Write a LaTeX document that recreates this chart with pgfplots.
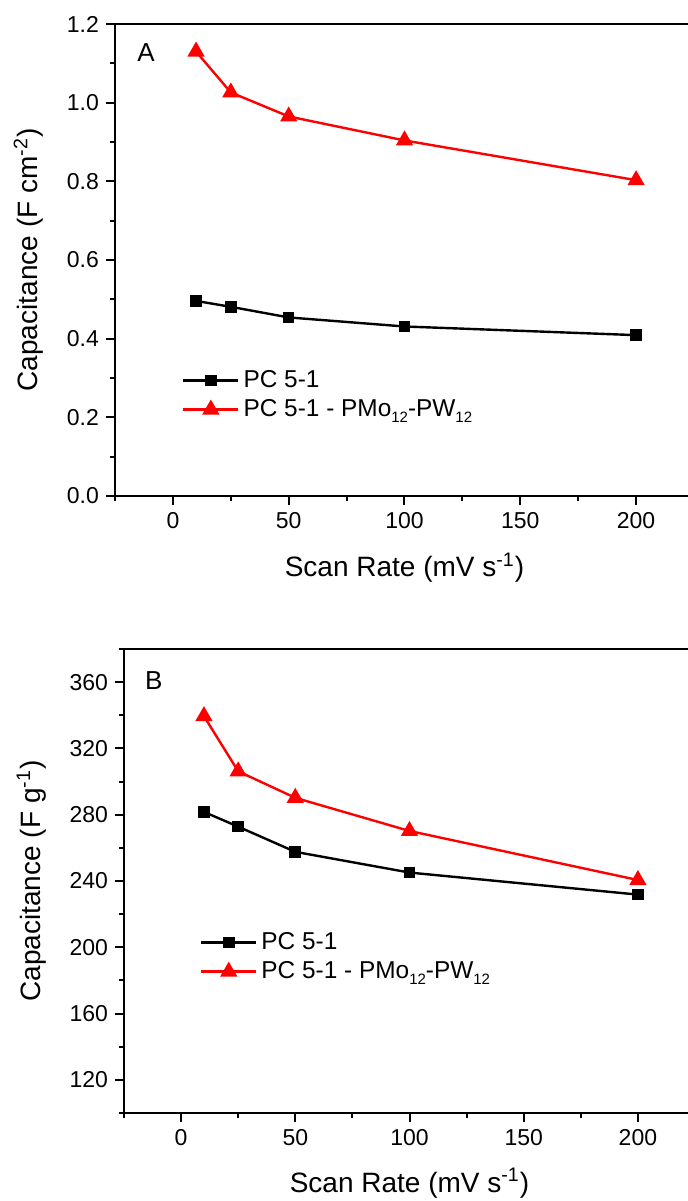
\documentclass[border=0pt]{standalone}
\usepackage{fontspec}
\setmainfont{Liberation Sans}
\usepackage{pgfplots}
\pgfplotsset{compat=1.18}

\newcommand{\sub}[1]{\raisebox{-0.45ex}{\fontsize{7.5}{8}\selectfont #1}}

\pgfplotsset{
  orig/.style={
    scale only axis,
    xmin=-25, xmax=225,
    xtick={0,50,...,200},
    minor xtick={-25,25,...,225},
    tick pos=left,
    tick align=outside,
    major tick length=4.5pt,
    minor tick length=2.5pt,
    every tick/.style={black, line width=1pt},
    axis line style={line width=1.2pt},
    /pgf/number format/assume math mode=true,
    tick label style={font=\fontsize{11.5}{13}\selectfont},
    label style={font=\fontsize{14}{16}\selectfont},
    xlabel={Scan Rate (mV s\textsuperscript{-1})},
    xlabel style={at={(axis description cs:0.5,-0.171)}, anchor=base},
    legend style={draw=none, fill=none, font=\fontsize{12.2}{14}\selectfont,
      anchor=west, cells={anchor=west}, row sep=0.5pt},
    legend image code/.code={
      \draw[mark repeat=2,mark phase=2] plot coordinates {(0pt,0pt) (13.75pt,0pt) (27.5pt,0pt)};},
  },
  blk/.style={black, line width=1.2pt, mark=square*, mark size=2.3pt, mark options={solid}},
  rd/.style={red, line width=1.2pt, mark=triangle*, mark size=3.8pt, mark options={solid}},
}

\begin{document}
\begin{tikzpicture}

% panel A: areal capacitance
\begin{axis}[orig,
    at={(57.5pt,-248pt)}, anchor=south west,
    width=289.5pt, height=236pt,
    ymin=0, ymax=1.2,
    ytick={0,0.2,...,1.2},
    minor ytick={0.1,0.3,...,1.1},
    yticklabel style={/pgf/number format/.cd, fixed, fixed zerofill, precision=1},
    ylabel={Capacitance (F cm\textsuperscript{-2})},
    ylabel style={at={(axis description cs:-0.149,0.5)}, anchor=center},
    legend style={at={(axis description cs:0.105,0.214)}},
  ]
\addplot[blk] coordinates {(10,0.496) (25,0.481) (50,0.454) (100,0.431) (200,0.409)};
\addplot[rd] coordinates {(10,1.130) (25,1.026) (50,0.965) (100,0.904) (200,0.803)};
\legend{PC 5-1, PC 5-1 - PMo\sub{12}-PW\sub{12}}
\node[font=\fontsize{13}{15}\selectfont] at (axis description cs:0.0535,0.94) {A};
\end{axis}

% panel B: gravimetric capacitance
\begin{axis}[orig,
    at={(62pt,-556.5pt)}, anchor=south west,
    width=285.5pt, height=232pt,
    ymin=100, ymax=380,
    ytick={120,160,...,360},
    minor ytick={100,140,...,380},
    ylabel={Capacitance (F g\textsuperscript{-1})},
    ylabel style={at={(axis description cs:-0.162,0.5)}, anchor=center},
    legend style={at={(axis description cs:0.122,0.336)}},
  ]
\addplot[blk] coordinates {(10,281.7) (25,272.8) (50,257.6) (100,245.1) (200,231.8)};
\addplot[rd] coordinates {(10,339.5) (25,306.2) (50,290.2) (100,270.2) (200,240.6)};
\legend{PC 5-1, PC 5-1 - PMo\sub{12}-PW\sub{12}}
\node[font=\fontsize{13}{15}\selectfont] at (axis description cs:0.052,0.932) {B};
\end{axis}

\pgfresetboundingbox
\path[use as bounding box] (0pt,0pt) rectangle (344pt,-600.5pt);
\end{tikzpicture}
\end{document}
